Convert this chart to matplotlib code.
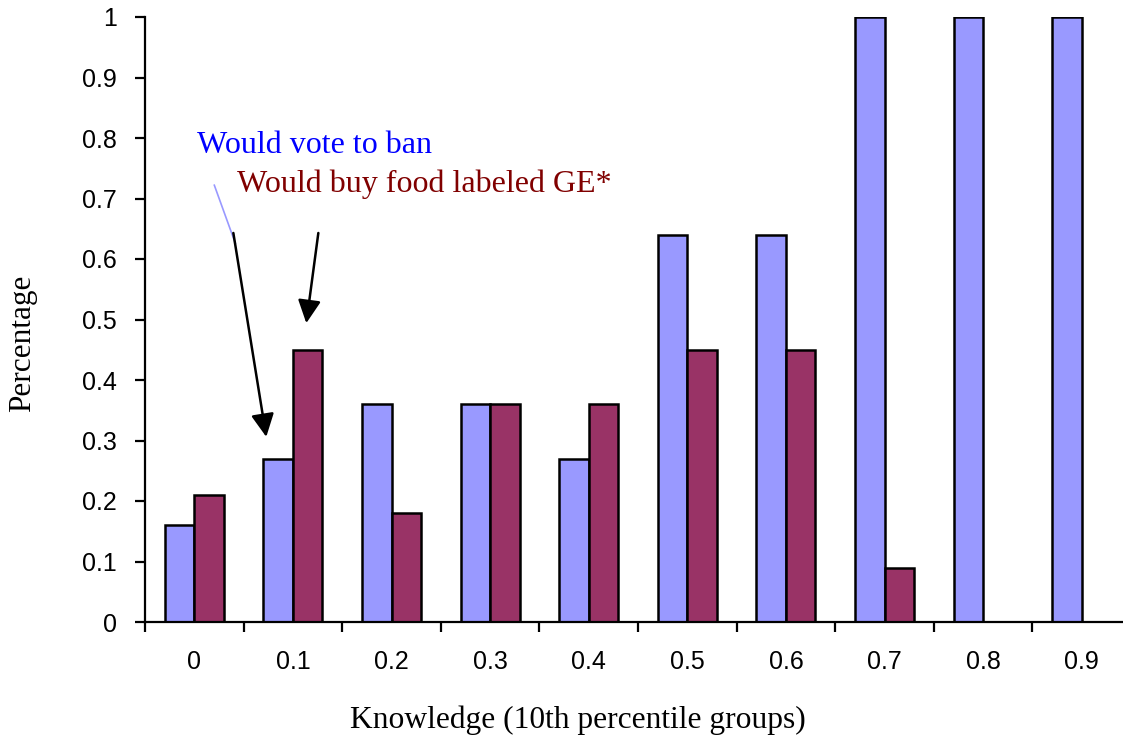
import numpy as np
import matplotlib
matplotlib.use("Agg")
import matplotlib.pyplot as plt

# knowledge groups and the share of each group per question
groups = ["0", "0.1", "0.2", "0.3", "0.4", "0.5", "0.6", "0.7", "0.8", "0.9"]
vote_ban = [0.16, 0.27, 0.36, 0.36, 0.27, 0.64, 0.64, 1.0, 1.0, 1.0]
buy_ge = [0.21, 0.45, 0.18, 0.36, 0.36, 0.45, 0.45, 0.09, 0.0, 0.0]
yticks = [0, 0.1, 0.2, 0.3, 0.4, 0.5, 0.6, 0.7, 0.8, 0.9, 1]
ytick_labels = ["0", "0.1", "0.2", "0.3", "0.4", "0.5", "0.6", "0.7", "0.8", "0.9", "1"]

W, H = 1123, 741
fig = plt.figure(figsize=(W / 100, H / 100), dpi=100)
ax = fig.add_axes([145 / W, 119 / H, 986 / W, 605 / H])

x = np.arange(len(groups))
bw = 0.30
ax.bar(x - bw / 2, vote_ban, bw, color="#9999FF", edgecolor="black", linewidth=1.8, zorder=2)
ax.bar(x + bw / 2, buy_ge, bw, color="#993366", edgecolor="black", linewidth=1.8, zorder=2)

ax.set_xlim(-0.5, len(groups) - 0.5)
ax.set_ylim(0, 1)
for s in ["top", "right"]:
    ax.spines[s].set_visible(False)
for s in ["left", "bottom"]:
    ax.spines[s].set_linewidth(1.6)
    ax.spines[s].set_zorder(3)

sans = "Liberation Sans"
serif = "Liberation Serif"

ax.set_yticks(yticks)
ax.set_yticklabels(ytick_labels, fontfamily=sans, fontsize=18)
ax.tick_params(axis="y", direction="out", length=7, width=1.6, pad=13)

ax.set_xticks(x)
ax.set_xticklabels(groups, fontfamily=sans, fontsize=18)
ax.set_xticks(np.arange(-0.5, len(groups), 1.0), minor=True)
ax.tick_params(axis="x", which="major", length=0, pad=20)
ax.tick_params(axis="x", which="minor", direction="out", length=7, width=1.6)

fig.text(23 / W, 1 - 343 / H, "Percentage", rotation=90, ha="center", va="center",
         fontfamily=serif, fontsize=22.5)
fig.text(578 / W, 1 - 720 / H, "Knowledge (10th percentile groups)", ha="center", va="center",
         fontfamily=serif, fontsize=22.7)

# callout labels and arrows
ax.text(0.03, 0.787, "Would vote to ban", color="#0000FF", fontfamily=serif, fontsize=23,
        ha="left", va="center")
ax.text(0.436, 0.724, "Would buy food labeled GE*", color="#800000", fontfamily=serif,
        fontsize=23, ha="left", va="center")
ax.plot([0.203, 0.416], [0.722, 0.626], color="#9999FF", linewidth=1.2, zorder=4)
arrow = dict(arrowstyle="-|>,head_length=1.4,head_width=0.7", color="black", lw=1.8,
             shrinkA=0, shrinkB=0)
ax.annotate("", xy=(0.73, 0.306), xytext=(0.396, 0.643), arrowprops=arrow, zorder=4)
ax.annotate("", xy=(1.136, 0.494), xytext=(1.258, 0.643), arrowprops=arrow, zorder=4)

fig.savefig("out.png", dpi=100)
